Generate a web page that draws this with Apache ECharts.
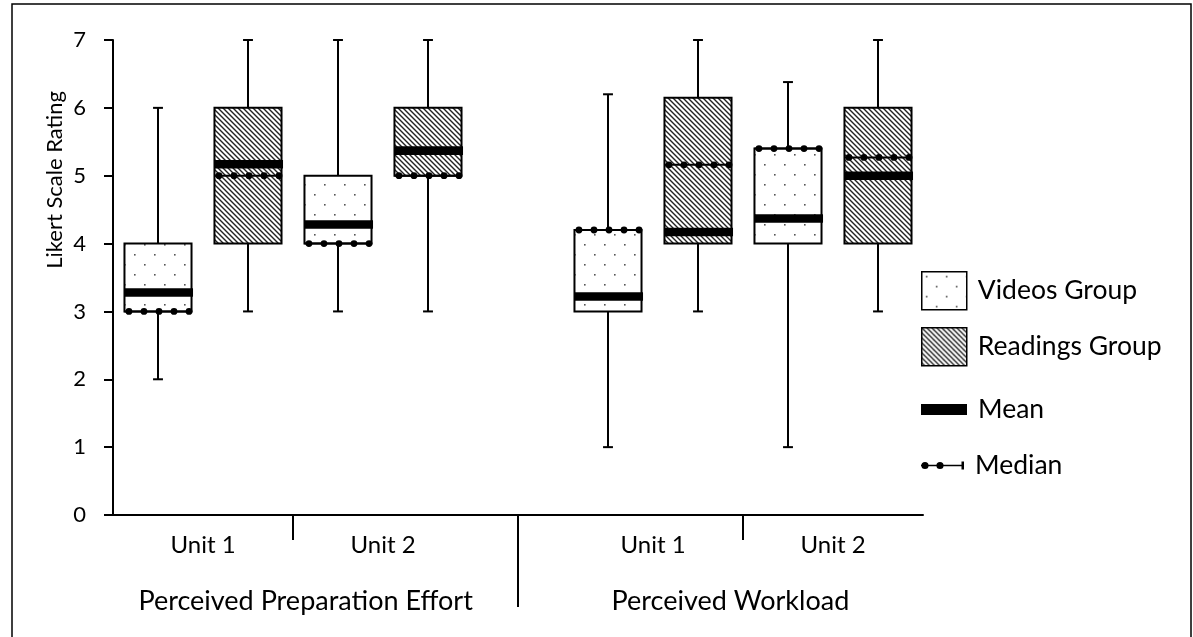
<!DOCTYPE html>
<html><head><meta charset="utf-8">
<script src="https://cdn.jsdelivr.net/npm/echarts@6/dist/echarts.min.js"></script>
<style>html,body{margin:0;padding:0;background:#fff}#c{width:1193px;height:637px}</style>
</head><body><div id="c"></div>
<script>
// ---------------- data ----------------
const groups = ['Perceived Preparation Effort', 'Perceived Workload'];
const units = ['Unit 1', 'Unit 2'];
const yTicks = [0, 1, 2, 3, 4, 5, 6, 7];
// box order: [PPE Unit 1, PPE Unit 2, PW Unit 1, PW Unit 2]
const videosMin    = [2, 3, 1, 1];
const videosQ1     = [3, 4, 3, 4];
const videosQ3     = [4, 5, 4.2, 5.4];
const videosMax    = [6, 7, 6.2, 6.38];
const videosMean   = [3.28, 4.28, 3.22, 4.37];
const videosMedian = [3.0, 4.0, 4.2, 5.4];
const readingsMin    = [3, 3, 3, 3];
const readingsQ1     = [4, 5, 4, 4];
const readingsQ3     = [6, 6, 6.15, 6];
const readingsMax    = [7, 7, 7, 7];
const readingsMean   = [5.17, 5.37, 4.17, 5.0];
const readingsMedian = [5.0, 5.0, 5.16, 5.27];

// ---------------- category slots ----------------
const slots = [], videoCat = [], readingCat = [], unitPos = [], unitNames = [], gapPos = [], unitBoundary = [];
groups.forEach((g, gi) => {
  if (gi > 0) { gapPos.push(slots.length + 0.5); slots.push('gap ' + gi); }
  units.forEach((u, ui) => {
    if (ui > 0) unitBoundary.push(slots.length);
    videoCat.push(g + ' | ' + u + ' | Videos'); slots.push(videoCat[videoCat.length - 1]);
    unitPos.push(slots.length); unitNames.push(u);
    readingCat.push(g + ' | ' + u + ' | Readings'); slots.push(readingCat[readingCat.length - 1]);
  });
});
const groupPos = [2.14, 6.86];

// ---------------- patterns ----------------
function makeDots() {
  const c = document.createElement('canvas'); c.width = 20; c.height = 20;
  const x = c.getContext('2d'); x.fillStyle = '#fff'; x.fillRect(0, 0, 20, 20);
  x.fillStyle = '#555';
  x.fillRect(4, 4, 1.6, 1.6); x.fillRect(14, 14, 1.6, 1.6);
  return { image: c, repeat: 'repeat' };
}
function makeHatch() {
  const s = 5;
  const c = document.createElement('canvas'); c.width = s; c.height = s;
  const x = c.getContext('2d'); x.fillStyle = '#fff'; x.fillRect(0, 0, s, s);
  x.strokeStyle = '#222'; x.lineWidth = 1.4;
  x.beginPath();
  x.moveTo(-1, -1); x.lineTo(s + 1, s + 1);
  x.moveTo(-1, s - 1); x.lineTo(1, s + 1);
  x.moveTo(s - 1, -1); x.lineTo(s + 1, 1);
  x.stroke();
  return { image: c, repeat: 'repeat' };
}
const dotFill = makeDots();
const hatchFill = makeHatch();

const BOX_FRAC = 0.745, CAP_FRAC = 0.11;

function boxRenderer(fill) {
  return function (params, api) {
    const i = api.value(0);
    const pMin = api.coord([i, api.value(1)]);
    const pQ1 = api.coord([i, api.value(2)]);
    const pQ3 = api.coord([i, api.value(3)]);
    const pMax = api.coord([i, api.value(4)]);
    const band = api.size([1, 0])[0];
    const w = band * BOX_FRAC, cap = band * CAP_FRAC;
    const cx = pMin[0];
    const ls = { stroke: '#000', lineWidth: 2 };
    return {
      type: 'group', children: [
        { type: 'line', shape: { x1: cx, y1: pMin[1], x2: cx, y2: pQ1[1] }, style: ls },
        { type: 'line', shape: { x1: cx, y1: pQ3[1], x2: cx, y2: pMax[1] }, style: ls },
        { type: 'line', shape: { x1: cx - cap / 2, y1: pMin[1], x2: cx + cap / 2, y2: pMin[1] }, style: ls },
        { type: 'line', shape: { x1: cx - cap / 2, y1: pMax[1], x2: cx + cap / 2, y2: pMax[1] }, style: ls },
        { type: 'rect', shape: { x: cx - w / 2, y: pQ3[1], width: w, height: pQ1[1] - pQ3[1] },
          style: { fill: fill, stroke: '#000', lineWidth: 2 } }
      ]
    };
  };
}
function meanRenderer(params, api) {
  const p = api.coord([api.value(0), api.value(1)]);
  const w = api.size([1, 0])[0] * BOX_FRAC;
  return { type: 'rect', shape: { x: p[0] - w / 2, y: p[1] - 4.3, width: w + 1.5, height: 8.6 }, style: { fill: '#000' } };
}
function medianRenderer(params, api) {
  const p = api.coord([api.value(0), api.value(1)]);
  const w = api.size([1, 0])[0] * BOX_FRAC;
  const ch = [{ type: 'line', shape: { x1: p[0] - w / 2, y1: p[1], x2: p[0] + w / 2, y2: p[1] }, style: { stroke: '#000', lineWidth: 2 } }];
  [-0.448, -0.224, 0, 0.224, 0.448].forEach(f => {
    ch.push({ type: 'circle', shape: { cx: p[0] + f * w + 1, cy: p[1], r: 3.4 }, style: { fill: '#000' } });
  });
  return { type: 'group', children: ch };
}

const FONT = 'Lato';
const chart = echarts.init(document.getElementById('c'), null, { renderer: 'canvas' });
const medianIcon = 'path://M0,4.2L43,4.2L43,5.8L0,5.8Z M0.4,5A3.6,3.6,0,1,1,7.6,5A3.6,3.6,0,1,1,0.4,5Z M15.4,5A3.6,3.6,0,1,1,22.6,5A3.6,3.6,0,1,1,15.4,5Z M40.5,1L43,1L43,9L40.5,9Z';
const legendBase = { left: 916, orient: 'vertical', selectedMode: false,
  textStyle: { fontFamily: FONT, fontSize: 26.5, color: '#000', padding: [0, 0, 0, 6] } };

chart.setOption({
  animation: false,
  backgroundColor: '#fff',
  grid: { left: 113, top: 40, width: 810, height: 475, outerBoundsMode: 'none', containLabel: false },
  xAxis: [
    { type: 'category', data: slots, boundaryGap: true,
      axisLine: { lineStyle: { color: '#000', width: 2 } },
      axisTick: { show: false }, axisLabel: { show: false }, splitLine: { show: false } },
    { type: 'value', min: 0, max: slots.length, position: 'bottom',
      axisLine: { show: false }, splitLine: { show: false },
      axisTick: { show: true, customValues: unitBoundary, length: 25, lineStyle: { color: '#000', width: 2 } },
      axisLabel: { customValues: unitPos, margin: 18, fontFamily: FONT, fontSize: 24, color: '#000',
        formatter: v => unitNames[unitPos.indexOf(v)] } },
    { type: 'value', min: 0, max: slots.length, position: 'bottom',
      axisLine: { show: false }, splitLine: { show: false },
      axisTick: { show: true, customValues: gapPos, length: 92, lineStyle: { color: '#000', width: 2 } },
      axisLabel: { customValues: groupPos, margin: 73, fontFamily: FONT, fontSize: 27, color: '#000',
        formatter: v => groups[groupPos.indexOf(v)] } }
  ],
  yAxis: { type: 'value', min: 0, max: 7, interval: 1,
    axisLine: { show: true, lineStyle: { color: '#000', width: 2 } },
    axisTick: { show: true, length: 9, lineStyle: { color: '#000', width: 2 } },
    splitLine: { show: false },
    axisLabel: { margin: 27, fontFamily: FONT, fontSize: 22, color: '#000',
      formatter: v => String(yTicks[yTicks.indexOf(v)]) } },
  legend: [
    Object.assign({}, legendBase, { top: 266, itemWidth: 45, itemHeight: 38,
      data: [{ name: 'Videos Group', icon: 'rect', itemStyle: { color: dotFill, borderColor: '#000', borderWidth: 1.5 } }] }),
    Object.assign({}, legendBase, { top: 322, itemWidth: 45, itemHeight: 38,
      data: [{ name: 'Readings Group', icon: 'rect', itemStyle: { color: hatchFill, borderColor: '#000', borderWidth: 1.5 } }] }),
    Object.assign({}, legendBase, { top: 391, itemWidth: 46, itemHeight: 11,
      data: [{ name: 'Mean', icon: 'rect', itemStyle: { color: '#000', borderWidth: 0 } }] }),
    Object.assign({}, legendBase, { top: 447, itemWidth: 43, itemHeight: 10,
      data: [{ name: 'Median', icon: medianIcon, itemStyle: { color: '#000', borderWidth: 0 } }] })
  ],
  graphic: [
    { type: 'rect', silent: true, z: -10, shape: { x: 12, y: 4, width: 1179, height: 660 },
      style: { fill: 'none', stroke: '#000', lineWidth: 1.5 } },
    { type: 'text', silent: true, x: 55, y: 180, rotation: Math.PI / 2,
      style: { text: 'Likert Scale Rating', font: '22px ' + FONT, fill: '#000', align: 'center', verticalAlign: 'middle' } }
  ],
  series: [
    { name: 'Videos Group', type: 'custom', clip: false, itemStyle: { color: dotFill, borderColor: '#000' },
      encode: { x: 0, y: [1, 2, 3, 4] }, renderItem: boxRenderer(dotFill),
      data: videoCat.map((c, i) => [c, videosMin[i], videosQ1[i], videosQ3[i], videosMax[i]]) },
    { name: 'Readings Group', type: 'custom', clip: false, itemStyle: { color: hatchFill, borderColor: '#000' },
      encode: { x: 0, y: [1, 2, 3, 4] }, renderItem: boxRenderer(hatchFill),
      data: readingCat.map((c, i) => [c, readingsMin[i], readingsQ1[i], readingsQ3[i], readingsMax[i]]) },
    { name: 'Mean', type: 'custom', clip: false, itemStyle: { color: '#000' }, encode: { x: 0, y: 1 },
      renderItem: meanRenderer,
      data: videoCat.map((c, i) => [c, videosMean[i]]).concat(readingCat.map((c, i) => [c, readingsMean[i]])) },
    { name: 'Median', type: 'custom', clip: false, itemStyle: { color: '#000' }, encode: { x: 0, y: 1 },
      renderItem: medianRenderer,
      data: videoCat.map((c, i) => [c, videosMedian[i]]).concat(readingCat.map((c, i) => [c, readingsMedian[i]])) }
  ]
});
</script></body></html>
